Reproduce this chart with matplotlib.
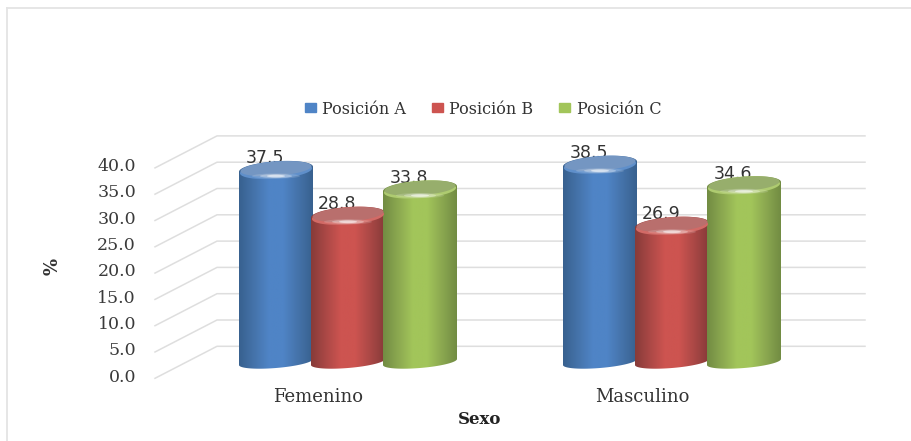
import numpy as np
import matplotlib
matplotlib.use("Agg")
import matplotlib.pyplot as plt
from matplotlib.colors import LinearSegmentedColormap
from matplotlib.patches import Patch, Polygon

categorias = ["Femenino", "Masculino"]
series = ["Posición A", "Posición B", "Posición C"]
posicion_a = [37.5, 38.5]
posicion_b = [28.8, 26.9]
posicion_c = [33.8, 34.6]
ticks = [0, 5, 10, 15, 20, 25, 30, 35, 40]

# borde, intermedio, centro del cilindro, tapa y brillo del canto
colores = [("#38618f", "#4573aa", "#4f84c6", "#7496c2", "#5f8fca"),
           ("#873b39", "#ab4846", "#cd5450", "#b96f6d", "#d26a66"),
           ("#728c43", "#8ba850", "#a2c55a", "#97ae6c", "#aecb70")]

W, H = 912, 441
PX_X = 324.0    # pixeles por categoria
PX_Y = 5.26     # pixeles por punto
X0 = 348.0      # pixel de la categoria 0
Y0 = 366.5      # pixel del valor 0

fig = plt.figure(figsize=(W / 100, H / 100), dpi=100)
ax = fig.add_axes([0, 0, 1, 1])
xlim = (-X0 / PX_X, (W - X0) / PX_X)
ylim = (-(H - Y0) / PX_Y, Y0 / PX_Y)
ax.axis("off")


def dx(px):
    return px / PX_X


def dy(px):
    return px / PX_Y


# marco del grafico
borde = "#e4e4e4"
ax.plot([dx(7 - X0)] * 2, [ylim[0], dy(Y0 - 8)], color=borde, lw=1.3, zorder=1)
ax.plot([dx(7 - X0), xlim[1]], [dy(Y0 - 8)] * 2, color=borde, lw=1.3, zorder=1)

# pared del fondo y rejilla
rejilla = "#dedede"
for t in ticks:
    y_frente = t + dy(Y0 - 378.3)
    y_fondo = t + dy(Y0 - 346.3)
    ax.plot([dx(155 - X0), dx(217 - X0), dx(865 - X0)],
            [y_frente, y_fondo, y_fondo], color=rejilla, lw=1.1, zorder=1)
    ax.text(dx(136 - X0), t + dy(Y0 - 377), f"{t:.1f}", ha="right", va="center",
            family="DejaVu Serif", fontsize=12.5, color="#3a3a3a", zorder=2)


def elipse(cx, cy, w, h, giro=2.5):
    t = np.linspace(0, 2 * np.pi, 120)
    return np.column_stack([cx + dx(w) * np.cos(t),
                            cy + dy(h) * np.sin(t) + dy(giro) * np.cos(t)])


def cilindro(cx, valor, col):
    w = 37
    base = dy(Y0 - 362)
    t = np.linspace(np.pi, 2 * np.pi, 60)
    # contorno: frente de la base y arco trasero de la tapa
    inf = np.column_stack([cx + dx(w) * np.cos(t),
                           base + dy(6) * np.sin(t) + dy(3) * np.cos(t)])
    t2 = np.linspace(0, np.pi, 60)
    sup = np.column_stack([cx + dx(w) * np.cos(t2),
                           valor + dy(8) * np.sin(t2) + dy(2.5) * np.cos(t2)])
    contorno = Polygon(np.vstack([inf, sup]), closed=True, transform=ax.transData,
                       fc="none", ec="none")
    ax.add_patch(contorno)
    cmap = LinearSegmentedColormap.from_list(
        "c", [col[0], col[1], col[2], col[2], col[1], col[0]])
    grad = np.linspace(0, 1, 128).reshape(1, -1)
    img = ax.imshow(grad, cmap=cmap, aspect="auto", zorder=4,
                    extent=[cx - dx(w), cx + dx(w), base - dy(8), valor + dy(10)])
    img.set_clip_path(contorno)
    # canto claro, tapa y reflejo
    ax.fill(*elipse(cx, valor - dy(1.5), w - 1, 8).T, color=col[4], zorder=5, lw=0)
    ax.fill(*elipse(cx, valor + dy(0.6), w - 1.5, 7.2).T, color=col[3], zorder=6, lw=0)
    for a, b, alfa in [(24, 2.6, 0.15), (16, 2.0, 0.3), (9, 1.3, 0.55)]:
        ax.fill(*elipse(cx, valor - dy(6.8), a, b, 0).T, color="white", alpha=alfa,
                zorder=7, lw=0)


paso = 72 / PX_X
for i, valores in enumerate([posicion_a, posicion_b, posicion_c]):
    for j, v in enumerate(valores):
        cx = j + (i - 1) * paso
        cilindro(cx, v, colores[i])
        # la etiqueta queda por detras del cilindro
        ax.text(cx - dx(11), v + dy(11), f"{v:.1f}", ha="center", va="center",
                family="DejaVu Sans", fontsize=12.5, color="#333333", zorder=3)

for j, c in enumerate(categorias):
    ax.text(j - dx(30), dy(Y0 - 397), c, ha="center", va="center",
            family="DejaVu Serif", fontsize=13, color="#333333")

ax.text(dx(480 - X0), dy(Y0 - 420), "Sexo", ha="center", va="center",
        family="DejaVu Serif", fontweight="bold", fontsize=12, color="#222222")
ax.text(dx(53 - X0), dy(Y0 - 266), "%", ha="center", va="center", rotation=90,
        family="DejaVu Serif", fontweight="bold", fontsize=13, color="#333333")

handles = [Patch(color=c[2], label=s) for c, s in zip(colores, series)]
ax.legend(handles=handles, ncol=3, loc="center", frameon=False,
          bbox_to_anchor=(483 / W, 1 - 109 / H), bbox_transform=fig.transFigure,
          prop={"family": "DejaVu Serif", "size": 11.5}, labelcolor="#333333",
          handlelength=0.7, handleheight=0.5, handletextpad=0.4, columnspacing=1.6)

ax.set_xlim(xlim)
ax.set_ylim(ylim)
fig.savefig("out.png", dpi=100)
